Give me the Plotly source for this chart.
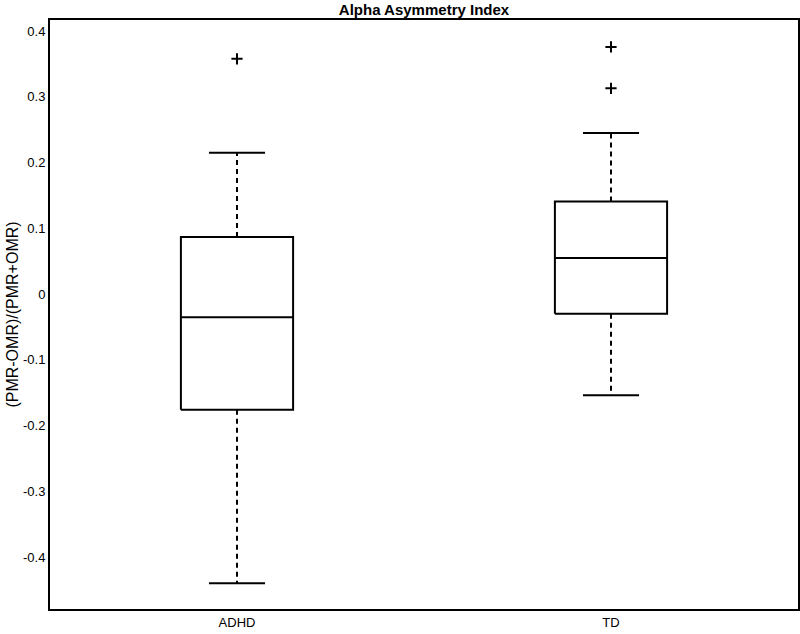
import plotly.graph_objects as go

groups = ['ADHD', 'TD']
q1 = [-0.176, -0.030]
medians = [-0.035, 0.055]
q3 = [0.087, 0.141]
whisker_low = [-0.440, -0.154]
whisker_high = [0.215, 0.245]
outliers = [[0.358], [0.376, 0.313]]

y_ticks = [-0.4, -0.3, -0.2, -0.1, 0, 0.1, 0.2, 0.3, 0.4]
y_ticktext = ['-0.4', '-0.3', '-0.2', '-0.1', '0', '0.1', '0.2', '0.3', '0.4']

box_half = 0.15
cap_half = 0.075
line_style = dict(color='black', width=2)

fig = go.Figure()

for i, g in enumerate(groups):
    c = i + 1
    # box outline
    fig.add_trace(go.Scatter(
        x=[c - box_half, c + box_half, c + box_half, c - box_half, c - box_half],
        y=[q1[i], q1[i], q3[i], q3[i], q1[i]],
        mode='lines', line=line_style, hoverinfo='skip'
    ))
    # median
    fig.add_trace(go.Scatter(
        x=[c - box_half, c + box_half], y=[medians[i], medians[i]],
        mode='lines', line=line_style, hoverinfo='skip'
    ))
    # whiskers (dashed)
    fig.add_trace(go.Scatter(
        x=[c, c, None, c, c],
        y=[q3[i], whisker_high[i], None, q1[i], whisker_low[i]],
        mode='lines', line=dict(color='black', width=2, dash='5px,4px'),
        hoverinfo='skip'
    ))
    # caps
    fig.add_trace(go.Scatter(
        x=[c - cap_half, c + cap_half, None, c - cap_half, c + cap_half],
        y=[whisker_high[i], whisker_high[i], None, whisker_low[i], whisker_low[i]],
        mode='lines', line=line_style, hoverinfo='skip'
    ))
    # outliers
    fig.add_trace(go.Scatter(
        x=[c] * len(outliers[i]), y=outliers[i],
        mode='markers',
        marker=dict(symbol='cross-thin', size=8, line=dict(color='black', width=2))
    ))

fig.update_layout(
    width=800,
    height=634,
    showlegend=False,
    plot_bgcolor='white',
    paper_bgcolor='white',
    margin=dict(l=50, r=2, t=20, b=25, autoexpand=False),
    font=dict(family='Liberation Sans, Arial, sans-serif', size=13, color='black'),
    title=dict(
        text='<b>Alpha Asymmetry Index</b>',
        x=0.5, xref='paper', xanchor='center',
        y=1 - 10 / 634, yref='container', yanchor='middle',
        font=dict(size=15, color='black')
    ),
    xaxis=dict(
        range=[0.5, 2.5],
        tickvals=[1, 2], ticktext=groups,
        showgrid=False, zeroline=False,
        showline=True, linecolor='black', linewidth=2, mirror=True,
        ticks='', automargin=False
    ),
    yaxis=dict(
        range=[-0.479, 0.417],
        tickvals=y_ticks, ticktext=y_ticktext,
        showgrid=False, zeroline=False,
        showline=True, linecolor='black', linewidth=2, mirror=True,
        ticks='', automargin=False,
        title=dict(text='(PMR-OMR)/(PMR+OMR)', standoff=0, font=dict(size=16))
    ),
)

fig.write_html("out.html",
               config={'displayModeBar': False},
               post_script="document.body.style.margin='0';document.body.style.overflow='hidden';")
